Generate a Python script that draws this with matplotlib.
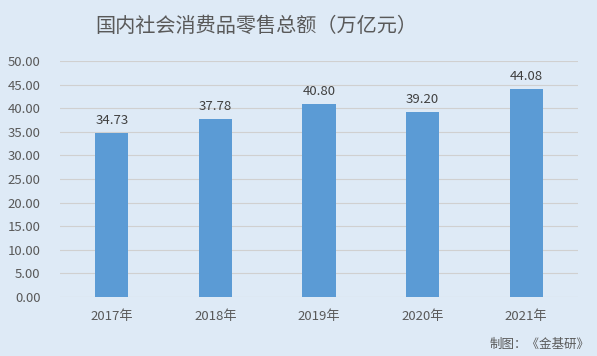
import matplotlib
matplotlib.use("Agg")
import matplotlib.pyplot as plt
from matplotlib.ticker import FormatStrFormatter

plt.rcParams['font.family'] = ['Noto Sans CJK SC', 'DejaVu Sans']

years = ['2017年', '2018年', '2019年', '2020年', '2021年']
values = [34.73, 37.78, 40.80, 39.20, 44.08]

bg = '#DEEAF6'
bar_color = '#5B9BD5'
text_color = '#595959'

fig = plt.figure(figsize=(5.97, 3.56), dpi=100, facecolor=bg)
ax = fig.add_axes([0.1005, 0.1657, 0.8675, 0.663], facecolor=bg)

x = range(len(years))
bars = ax.bar(x, values, width=0.32, color=bar_color, zorder=3)
for xi, v in zip(x, values):
    ax.text(xi, v + 1.3, f'{v:.2f}', ha='center', va='bottom', fontsize=9.5, color='#404040')

ax.set_xlim(-0.5, len(years) - 0.5)
ax.set_ylim(0, 50)
ax.set_yticks(range(0, 51, 5))
ax.yaxis.set_major_formatter(FormatStrFormatter('%.2f'))
ax.set_xticks(list(x))
ax.set_xticklabels(years)
ax.tick_params(axis='both', length=0, labelsize=9.5, labelcolor=text_color)
ax.tick_params(axis='x', pad=9)
ax.tick_params(axis='y', pad=14)
ax.grid(axis='y', color='#D0D0D0', linewidth=0.8, zorder=0)
for s in ax.spines.values():
    s.set_visible(False)

fig.text(256 / 597, 1 - 27 / 356, '国内社会消费品零售总额（万亿元）', ha='center', va='center',
         fontsize=14.5, color=text_color)
fig.text(590 / 597, 1 - 344 / 356, '制图：《金基研》', ha='right', va='center',
         fontsize=9, color=text_color)

fig.savefig('out.png', dpi=100, facecolor=bg)
